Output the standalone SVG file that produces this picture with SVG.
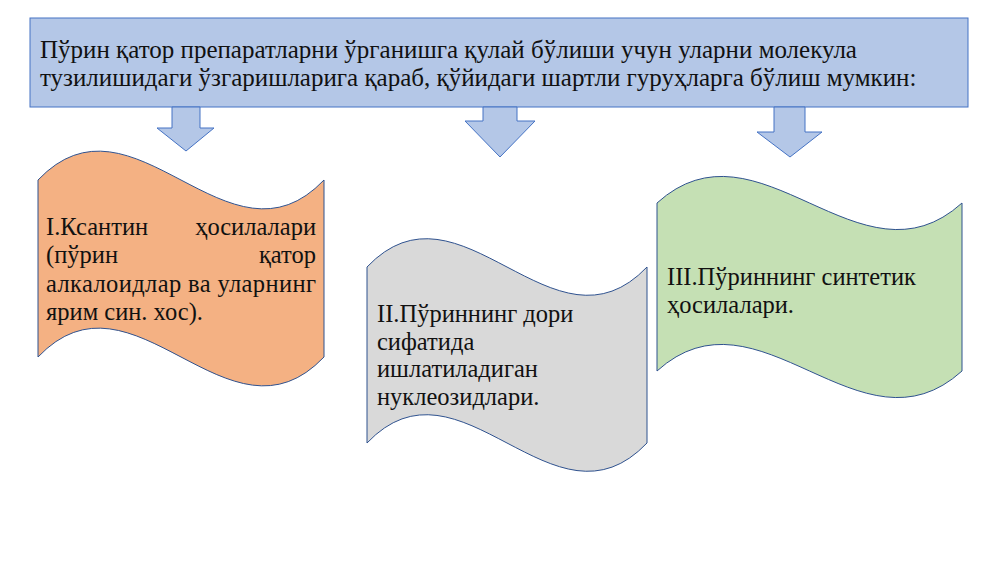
<svg xmlns="http://www.w3.org/2000/svg" width="1000" height="562" viewBox="0 0 1000 562">
<style>
.box{fill:#B4C7E7;stroke:#4472C4;stroke-width:1}
.arrow{fill:#B4C7E7;stroke:#4472C4;stroke-width:1}
.wave{stroke:#2F528F;stroke-width:1}
.t{font-family:"Liberation Serif","Times New Roman",serif;fill:#111}
.top{font-size:25px}
.n{font-size:24.5px}
</style>
<rect width="1000" height="562" fill="#ffffff"/>
<g id="header">
<rect class="box" x="30" y="18" width="938" height="89"/>
<text class="t top" x="40" y="58">Пўрин қатор препаратларни ўрганишга қулай бўлиши учун уларни молекула</text>
<text class="t top" x="40" y="86">тузилишидаги ўзгаришларига қараб, қўйидаги шартли гуруҳларга бўлиш мумкин:</text>
</g>
<g id="connectors">
<path class="arrow" d="M172,107 L200,107 L200,128 L214,128 L186,151 L157,128 L172,128 Z"/>
<path class="arrow" d="M483,107 L517,107 L517,121 L535,121 L500,157 L465,121 L483,121 Z"/>
<path class="arrow" d="M774,107 L805,107 L805,132 L822,132 L790,157 L757,132 L774,132 Z"/>
</g>
<g id="node1">
<path class="wave" fill="#F4B183" d="M38,180 C133.3,80 228.7,280 324,180 L324,357 C228.7,457 133.3,257 38,357 Z"/>
<text class="t n" y="235"><tspan x="46">I.Ксантин</tspan><tspan x="316" text-anchor="end">ҳосилалари</tspan></text>
<text class="t n" y="263"><tspan x="46">(пўрин</tspan><tspan x="316" text-anchor="end">қатор</tspan></text>
<text class="t n" x="46" y="292" textLength="270" lengthAdjust="spacing">алкалоидлар ва уларнинг</text>
<text class="t n" x="46" y="320">ярим син. хос).</text>
</g>
<g id="node2">
<path class="wave" fill="#D9D9D9" d="M367,267 C460.3,169 553.7,365 647,267 L647,443 C553.7,541 460.3,345 367,443 Z"/>
<text class="t n" x="377" y="322">II.Пўриннинг дори</text>
<text class="t n" x="377" y="350">сифатида</text>
<text class="t n" x="377" y="377">ишлатиладиган</text>
<text class="t n" x="377" y="405">нуклеозидлари.</text>
</g>
<g id="node3">
<path class="wave" fill="#C5E0B4" d="M657,203 C758.7,111 860.3,295 962,203 L962,371 C860.3,463 758.7,279 657,371 Z"/>
<text class="t n" x="667" y="285">III.Пўриннинг синтетик</text>
<text class="t n" x="667" y="313">ҳосилалари.</text>
</g>
</svg>
